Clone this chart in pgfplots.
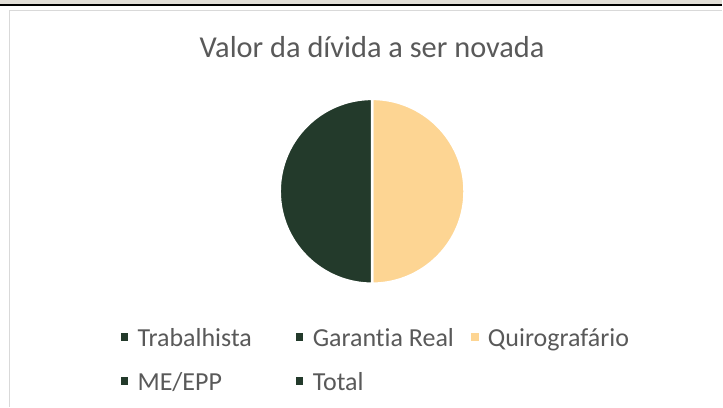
\documentclass[border=0pt]{standalone}
\usepackage{pgfplots}
\pgfplotsset{compat=1.18}
\usepackage{pgfplotstable}
\usepackage{fontspec}
\setmainfont{Carlito}[Ligatures={NoCommon}]
\definecolor{dkgreen}{HTML}{233A2B}
\definecolor{peach}{HTML}{FDD593}
\definecolor{txtgray}{HTML}{595959}
\definecolor{bordergray}{HTML}{D9D9D9}
\definecolor{bandgray}{HTML}{E2DFD8}
\pgfplotstableread{
categoria valor
Trabalhista 0
GarantiaReal 0
Quirografario 100
MEEPP 0
Total 100
}\divida
\pgfplotsset{sq/.style={legend image code/.code={\fill[#1] (0bp,-3.3bp) rectangle (6.6bp,3.3bp);}}}
\begin{document}
\begin{tikzpicture}
\pgfplotstablegetelem{0}{valor}\of\divida \let\vA\pgfplotsretval
\pgfplotstablegetelem{1}{valor}\of\divida \let\vB\pgfplotsretval
\pgfplotstablegetelem{2}{valor}\of\divida \let\vC\pgfplotsretval
\pgfplotstablegetelem{3}{valor}\of\divida \let\vD\pgfplotsretval
\pgfplotstablegetelem{4}{valor}\of\divida \let\vE\pgfplotsretval
\pgfmathsetmacro\soma{\vA+\vB+\vC+\vD+\vE}
\pgfmathsetmacro\aA{90}
\pgfmathsetmacro\aB{\aA-360*(\vA/\soma)}
\pgfmathsetmacro\aC{\aB-360*(\vB/\soma)}
\pgfmathsetmacro\aD{\aC-360*(\vC/\soma)}
\pgfmathsetmacro\aE{\aD-360*(\vD/\soma)}
\pgfmathsetmacro\aF{\aE-360*(\vE/\soma)}
\begin{axis}[scale only axis, width=723bp, height=407bp,
  xmin=0, xmax=723, ymin=0, ymax=407, axis lines=none, clip=false,
  legend columns=3, legend cell align=left,
  legend style={at={(axis cs:120.7,81.3)}, anchor=north west, draw=none, fill=none,
    inner sep=0pt, outer sep=0pt, font=\fontsize{26bp}{30bp}\selectfont, text=txtgray,
    nodes={inner sep=0pt, text height=21bp, text depth=2bp}, row sep=21bp,
    /tikz/every odd column/.style={column sep=10bp},
    /tikz/every even column/.style={column sep=0bp}}]
\fill[bandgray] (axis cs:0,403) rectangle (axis cs:723,407);
\fill[black] (axis cs:0,401) rectangle (axis cs:723,403);
\draw[bordergray, line width=1.5bp] (axis cs:9.5,0) -- (axis cs:9.5,396.6) -- (axis cs:723,396.6);
\node[font=\fontsize{30.4bp}{36bp}\selectfont, text=txtgray, anchor=base] at (axis cs:372.5,349) {Valor da dívida a ser novada};
\fill[dkgreen, draw=white, line width=2.5bp] (axis cs:372.5,215.5) -- ++(\aA:92.5bp) arc[start angle=\aA, end angle=\aB, radius=92.5bp] -- cycle;
\fill[dkgreen, draw=white, line width=2.5bp] (axis cs:372.5,215.5) -- ++(\aB:92.5bp) arc[start angle=\aB, end angle=\aC, radius=92.5bp] -- cycle;
\fill[peach, draw=white, line width=2.5bp] (axis cs:372.5,215.5) -- ++(\aC:92.5bp) arc[start angle=\aC, end angle=\aD, radius=92.5bp] -- cycle;
\fill[dkgreen, draw=white, line width=2.5bp] (axis cs:372.5,215.5) -- ++(\aD:92.5bp) arc[start angle=\aD, end angle=\aE, radius=92.5bp] -- cycle;
\fill[dkgreen, draw=white, line width=2.5bp] (axis cs:372.5,215.5) -- ++(\aE:92.5bp) arc[start angle=\aE, end angle=\aF, radius=92.5bp] -- cycle;
\addlegendimage{sq=dkgreen}\addlegendentry{\makebox[158.4bp][l]{Trabalhista}}
\addlegendimage{sq=dkgreen}\addlegendentry{\makebox[158.4bp][l]{Garantia Real}}
\addlegendimage{sq=peach}\addlegendentry{\makebox[158.4bp][l]{Quirografário}}
\addlegendimage{sq=dkgreen}\addlegendentry{\makebox[158.4bp][l]{ME/EPP}}
\addlegendimage{sq=dkgreen}\addlegendentry{\makebox[158.4bp][l]{Total}}
\end{axis}
\end{tikzpicture}
\end{document}
